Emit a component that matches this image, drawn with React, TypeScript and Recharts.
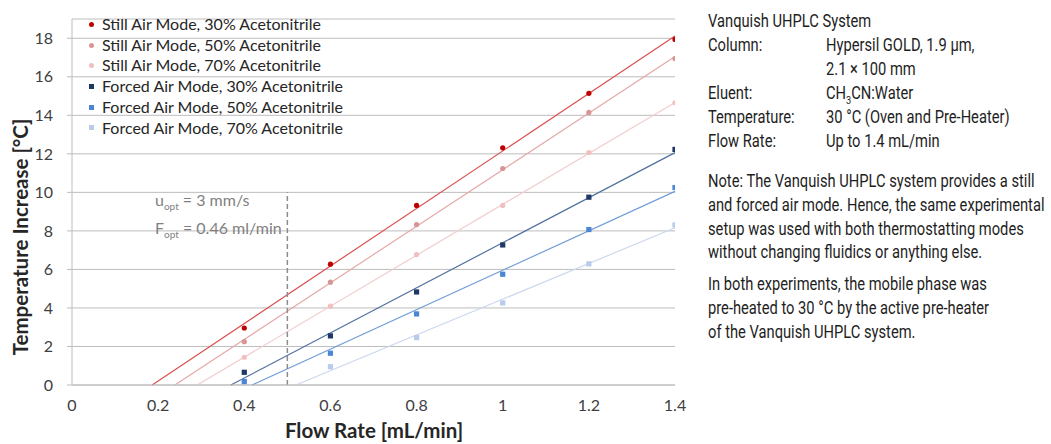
import React from 'react';
import {
    ScatterChart,
    Scatter,
    XAxis,
    YAxis,
    CartesianGrid,
    ReferenceLine,
} from 'recharts';

// flow rates (mL/min) measured
const flowRates = [0.4, 0.6, 0.8, 1.0, 1.2, 1.4];

// temperature increase [°C] per mode / acetonitrile content
const still30 = [2.96, 6.27, 9.32, 12.31, 15.14, 17.94];
const still50 = [2.25, 5.34, 8.33, 11.24, 14.15, 16.94];
const still70 = [1.44, 4.09, 6.77, 9.32, 12.07, 14.65];
const forced30 = [0.66, 2.55, 4.83, 7.27, 9.75, 12.23];
const forced50 = [0.18, 1.65, 3.69, 5.75, 8.07, 10.25];
const forced70 = [null, 0.95, 2.46, 4.26, 6.29, 8.31];

const xTicks = [0, 0.2, 0.4, 0.6, 0.8, 1, 1.2, 1.4];
const yTicks = [0, 2, 4, 6, 8, 10, 12, 14, 16, 18];

const optFlow = 0.5;
const optMarkerTop = 10;

type Series = {
    name: string;
    values: Array<number | null>;
    color: string;
    lineColor: string;
    shape: 'circle' | 'square';
};

const series: Series[] = [
    { name: 'Still Air Mode, 30% Acetonitrile', values: still30, color: '#C00000', lineColor: '#DA5050', shape: 'circle' },
    { name: 'Still Air Mode, 50% Acetonitrile', values: still50, color: '#D99594', lineColor: '#E5A9A9', shape: 'circle' },
    { name: 'Still Air Mode, 70% Acetonitrile', values: still70, color: '#F0C0C0', lineColor: '#F3CDCD', shape: 'circle' },
    { name: 'Forced Air Mode, 30% Acetonitrile', values: forced30, color: '#1F3864', lineColor: '#50719F', shape: 'square' },
    { name: 'Forced Air Mode, 50% Acetonitrile', values: forced50, color: '#4A86D4', lineColor: '#729DD6', shape: 'square' },
    { name: 'Forced Air Mode, 70% Acetonitrile', values: forced70, color: '#B8CBEA', lineColor: '#CCD8EC', shape: 'square' },
];

const toPoints = (values: Array<number | null>) =>
    flowRates
        .map((x, i) => ({ x, y: values[i] }))
        .filter((p) => p.y !== null) as Array<{ x: number; y: number }>;

// least squares trendline, clipped at y = 0
const trend = (values: Array<number | null>) => {
    const pts = toPoints(values);
    const n = pts.length;
    const mx = pts.reduce((s, p) => s + p.x, 0) / n;
    const my = pts.reduce((s, p) => s + p.y, 0) / n;
    let sxy = 0;
    let sxx = 0;
    pts.forEach((p) => {
        sxy += (p.x - mx) * (p.y - my);
        sxx += (p.x - mx) * (p.x - mx);
    });
    const m = sxy / sxx;
    const b = my - m * mx;
    const x0 = Math.max(-b / m, 0);
    const x1 = 1.4;
    return [
        { x: x0, y: m * x0 + b },
        { x: x1, y: m * x1 + b },
    ];
};

const marker = (s: Series) => (props: any) => {
    const { cx, cy } = props;
    if (cx == null || cy == null) return <g />;
    return s.shape === 'circle' ? (
        <circle cx={cx} cy={cy} r={2.6} fill={s.color} />
    ) : (
        <rect x={cx - 2.6} y={cy - 2.6} width={5.2} height={5.2} fill={s.color} />
    );
};

const chartFont = 'Lato, "Open Sans", sans-serif';
const noteFont = 'Roboto, "Liberation Sans", sans-serif';

const LegendBox = () => (
    <div
        style={{
            position: 'absolute',
            left: 89,
            top: 14,
            fontFamily: chartFont,
            fontSize: 16,
            color: '#262626',
            lineHeight: '20.7px',
        }}
    >
        {series.map((s) => (
            <div key={s.name} style={{ display: 'flex', alignItems: 'center', whiteSpace: 'nowrap' }}>
                <span
                    style={{
                        display: 'inline-block',
                        width: 5,
                        height: 5,
                        background: s.color,
                        borderRadius: s.shape === 'circle' ? '50%' : 0,
                        marginRight: 8,
                    }}
                />
                {s.name}
            </div>
        ))}
    </div>
);

const infoLabels = [
    { label: 'Vanquish UHPLC System', value: null },
    { label: 'Column:', value: 'Hypersil GOLD, 1.9 µm,' },
    { label: '', value: '2.1 × 100 mm' },
    { label: 'Eluent:', value: 'eluent' },
    { label: 'Temperature:', value: '30 °C (Oven and Pre-Heater)' },
    { label: 'Flow Rate:', value: 'Up to 1.4 mL/min' },
];

const noteLines = [
    'Note: The Vanquish UHPLC system provides a still',
    'and forced air mode. Hence, the same experimental',
    'setup was used with both thermostatting modes',
    'without changing fluidics or anything else.',
];

const preheatLines = [
    'In both experiments, the mobile phase was',
    'pre-heated to 30 °C by the active pre-heater',
    'of the Vanquish UHPLC system.',
];

const noteStyle = (left: number, top: number): React.CSSProperties => ({
    position: 'absolute',
    left,
    top,
    fontFamily: noteFont,
    fontSize: 17.5,
    lineHeight: '24px',
    color: '#1E1E1E',
    whiteSpace: 'nowrap',
    transform: 'scaleX(0.84)',
    transformOrigin: 'left center',
});

export default function App() {
    return (
        <div style={{ position: 'absolute', left: 0, top: 0, width: 1051, height: 444, background: '#fff' }}>
            <ScatterChart width={700} height={444} margin={{ top: 19, right: 25, bottom: 0, left: 0 }}>
                <CartesianGrid vertical={false} stroke="#BDBDBD" />
                <XAxis
                    type="number"
                    dataKey="x"
                    domain={[0, 1.4]}
                    ticks={xTicks}
                    height={59}
                    tickLine={false}
                    tickSize={0}
                    tickMargin={15}
                    axisLine={{ stroke: '#BDBDBD' }}
                    tick={{ fill: '#404040', fontSize: 16, fontFamily: chartFont }}
                    allowDataOverflow
                />
                <YAxis
                    type="number"
                    dataKey="y"
                    domain={[0, 19]}
                    ticks={yTicks}
                    width={72}
                    tickSize={5}
                    tickMargin={14}
                    tickLine={{ stroke: '#BDBDBD' }}
                    axisLine={{ stroke: '#BDBDBD' }}
                    tick={{ fill: '#404040', fontSize: 16, fontFamily: chartFont }}
                    allowDataOverflow
                />
                {series.map((s) => (
                    <ReferenceLine
                        key={'trend-' + s.name}
                        segment={trend(s.values)}
                        stroke={s.lineColor}
                        strokeWidth={1.2}
                        ifOverflow="visible"
                    />
                ))}
                <ReferenceLine
                    segment={[
                        { x: optFlow, y: 0 },
                        { x: optFlow, y: optMarkerTop },
                    ]}
                    stroke="#8C8C8C"
                    strokeWidth={1.5}
                    strokeDasharray="5 3"
                    ifOverflow="visible"
                />
                {series.map((s) => (
                    <Scatter
                        key={s.name}
                        name={s.name}
                        data={toPoints(s.values)}
                        fill={s.color}
                        shape={marker(s)}
                        isAnimationActive={false}
                    />
                ))}
            </ScatterChart>

            <LegendBox />

            {/* axis titles */}
            <div
                style={{
                    position: 'absolute',
                    left: 20,
                    top: 237,
                    transform: 'translate(-50%, -50%) rotate(-90deg)',
                    fontFamily: chartFont,
                    fontWeight: 700,
                    fontSize: 20.5,
                    lineHeight: '24px',
                    color: '#262626',
                    whiteSpace: 'nowrap',
                }}
            >
                Temperature Increase [°C]
            </div>
            <div
                style={{
                    position: 'absolute',
                    left: 374,
                    top: 430,
                    transform: 'translate(-50%, -50%)',
                    fontFamily: chartFont,
                    fontWeight: 700,
                    fontSize: 20.5,
                    lineHeight: '24px',
                    color: '#262626',
                    whiteSpace: 'nowrap',
                }}
            >
                Flow Rate [mL/min]
            </div>

            {/* optimum annotation */}
            <div
                style={{
                    position: 'absolute',
                    left: 155,
                    top: 189,
                    fontFamily: chartFont,
                    fontSize: 16,
                    lineHeight: '22px',
                    color: '#7F7F7F',
                    whiteSpace: 'nowrap',
                }}
            >
                <div>
                    u<sub style={{ fontSize: 10 }}>opt</sub> = 3 mm/s
                </div>
                <div>
                    F<sub style={{ fontSize: 10 }}>opt</sub> = 0.46 ml/min
                </div>
            </div>

            {/* method conditions */}
            {infoLabels.map((row, i) => (
                <React.Fragment key={'info' + i}>
                    {row.label && <div style={noteStyle(708, 9 + i * 24)}>{row.label}</div>}
                    {row.value === 'eluent' ? (
                        <div style={noteStyle(826, 9 + i * 24)}>
                            CH<sub style={{ fontSize: 11 }}>3</sub>CN:Water
                        </div>
                    ) : (
                        row.value && <div style={noteStyle(826, 9 + i * 24)}>{row.value}</div>
                    )}
                </React.Fragment>
            ))}
            {noteLines.map((line, i) => (
                <div key={'n' + i} style={noteStyle(708, 169 + i * 23.8)}>
                    {line}
                </div>
            ))}
            {preheatLines.map((line, i) => (
                <div key={'p' + i} style={noteStyle(708, 272 + i * 23.8)}>
                    {line}
                </div>
            ))}
        </div>
    );
}
